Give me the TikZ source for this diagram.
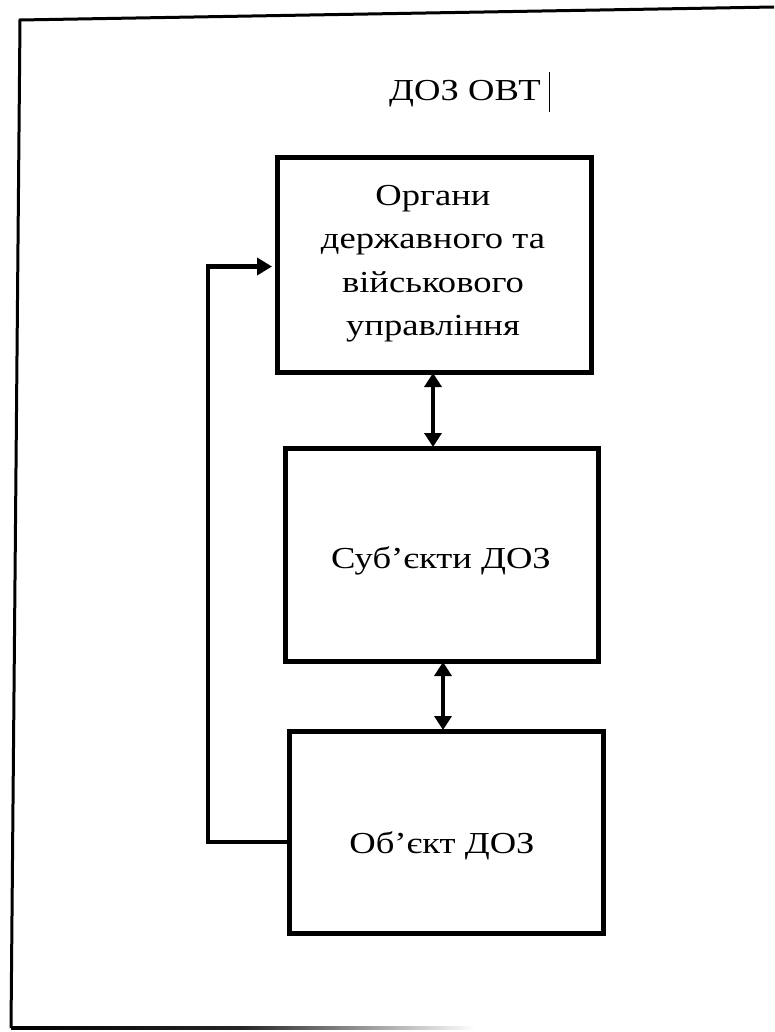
\documentclass[tikz,border=0pt]{standalone}
\usepackage{fontspec}
\setmainfont{Liberation Serif}[FakeStretch=1.2]
\usetikzlibrary{arrows.meta}
\begin{document}
\begin{tikzpicture}[x=1pt,y=-1pt,
  box/.style={draw=black,line width=5pt,rectangle,inner sep=0pt,outer sep=0pt},
  lbl/.style={font=\fontsize{30.5}{43.5}\selectfont,inner sep=0pt},
  arr/.style={line width=4.3pt,-{Triangle[length=15pt,width=17pt]}},
  darr/.style={line width=4.3pt,{Triangle[length=14pt,width=17pt]}-{Triangle[length=14pt,width=17pt]}},
  frame/.style={line width=3pt}]
\useasboundingbox (0,0) rectangle (774,1032);
% outer frame (slightly rotated scan)
\coordinate (fTR) at (774,7);
\coordinate (fTL) at (20,20);
\coordinate (fBL) at (11,1028);
\draw[frame] (fTR) -- (fTL) -- (fBL);
\shade[left color=black,right color=white,middle color=black!85] (11,1026.5) rectangle (475,1029.5);
% title with text cursor
\node[lbl,anchor=base] (title) at (465,101) {ДОЗ ОВТ};
\coordinate (curT) at (549,72);
\coordinate (curB) at (549,112);
\draw[line width=1pt] (curT) -- (curB);
% boxes
\node[box,minimum width=314pt,minimum height=214pt] (b1) at (434,265) {};
\node[box,minimum width=313pt,minimum height=213pt] (b2) at (441.5,554.5) {};
\node[box,minimum width=314pt,minimum height=202pt] (b3) at (446,832) {};
% labels
\node[lbl,align=center] (t1) at (433,263.5) {Органи\\державного та\\військового\\управління};
\node[lbl,anchor=base] (t2) at (441,568) {Суб’єкти ДОЗ};
\node[lbl,anchor=base] (t3) at (442,853) {Об’єкт ДОЗ};
% connectors
\draw[darr,shorten <=1pt,shorten >=1pt] ([xshift=-1pt]b1.south) -- ([xshift=-1pt]b1.south |- b2.north);
\draw[darr,shorten <=1pt,shorten >=1pt] ([xshift=1.5pt]b2.south) -- ([xshift=1.5pt]b2.south |- b3.north);
\coordinate (fb1) at (208,842);
\coordinate (fb2) at (208,266.5);
\draw[arr,shorten >=5pt,line join=miter] ([yshift=-10pt]b3.west) -- (fb1) -- (fb2) -- ([yshift=-1.5pt]b1.west);
\end{tikzpicture}
\end{document}
